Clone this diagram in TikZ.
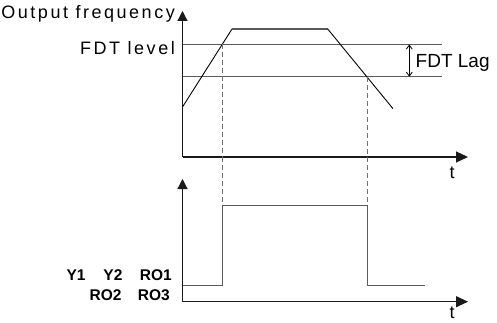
\documentclass[tikz,border=0pt]{standalone}
\usepackage{fontspec}
\setmainfont{Liberation Sans}
\newfontfamily\spacedfont[LetterSpace=14]{Liberation Sans}
\usetikzlibrary{arrows.meta}
\definecolor{lvl}{HTML}{5A5A5A}
\definecolor{axc}{HTML}{1A1A1A}
\definecolor{dsh}{HTML}{707070}
\tikzset{
  axisline/.style={draw=axc, line width=1.2pt},
  vtip/.style={-{Triangle[length=10pt,width=10pt]}},
  htip/.style={-{Triangle[length=12pt,width=11pt]}},
  levelline/.style={draw=lvl, line width=1.4pt},
  rampline/.style={draw=black, line width=0.9pt},
  guide/.style={draw=dsh, line width=1pt, dash pattern=on 5pt off 3pt},
  pulse/.style={draw=lvl, line width=1.4pt},
  lagarrow/.style={draw=black, line width=0.8pt, {Straight Barb[length=4pt,width=6pt]}-{Straight Barb[length=4pt,width=6pt]}},
  biglabel/.style={inner sep=0pt, font=\spacedfont\fontsize{18}{21}\selectfont},
  laglabel/.style={inner sep=0pt, font=\fontsize{19}{22}\selectfont},
  sigtext/.style={inner sep=0pt, font=\bfseries\fontsize{15.5}{18}\selectfont},
  tlabel/.style={inner sep=0pt, font=\fontsize{18}{21}\selectfont}
}
\begin{document}
\begin{tikzpicture}[x=1pt,y=-1pt]
\useasboundingbox (0,0) rectangle (497,323);
% coordinates
\coordinate (o1) at (182.5,157);
\coordinate (y1) at (182.5,11);
\coordinate (x1) at (468,157);
\coordinate (o2) at (182.5,301.7);
\coordinate (y2) at (182.5,179);
\coordinate (x2) at (468,301.7);
\coordinate (fdtL) at (182.5,44.5);
\coordinate (fdtR) at (442,44.5);
\coordinate (lagL) at (182.5,76.7);
\coordinate (lagR) at (442,76.7);
\coordinate (rs) at (182.5,107);
\coordinate (rt) at (232,29);
\coordinate (ft) at (327.7,29);
\coordinate (fe) at (393,108.7);
\coordinate (c1) at (222.2,44.5);
\coordinate (c2) at (367.2,76.7);
\coordinate (p0) at (182.5,285.7);
\coordinate (p1) at (222.2,285.7);
\coordinate (p2) at (222.2,205.3);
\coordinate (p3) at (367.2,205.3);
\coordinate (p4) at (367.2,285.7);
\coordinate (p5) at (425,285.7);
\coordinate (la) at (409.3,44.5);
\coordinate (lb) at (409.3,76.7);
% axes
\draw[axisline,vtip] (o1) -- (y1);
\draw[axisline,htip] (o1) -- (x1);
\draw[axisline,vtip] (o2) -- (y2);
\draw[axisline,htip] (o2) -- (x2);
% levels
\draw[levelline] (fdtL) -- (fdtR);
\draw[levelline] (lagL) -- (lagR);
% frequency
\draw[rampline] (rs) -- (rt);
\draw[levelline] (rt) -- (ft);
\draw[rampline] (ft) -- (fe);
% guides
\draw[guide] (c1) -- (p2);
\draw[guide] (c2) -- (p3);
% pulse
\draw[pulse] (p0) -- (p1) -- (p2) -- (p3) -- (p4) -- (p5);
% lag arrow
\draw[lagarrow] (la) -- (lb);
% labels
\node[biglabel, anchor=base east] (outf) at (175,18.5) {Output frequency};
\node[biglabel, anchor=base east] (fdtlv) at (175,55) {FDT level};
\node[laglabel, anchor=base west] (lag) at (415.5,67.5) {FDT Lag};
\node[tlabel, anchor=base] (t1) at (452,178.5) {t};
\node[tlabel, anchor=base] (t2) at (452,318.5) {t};
\node[sigtext, anchor=base east] (sig1) at (172,280) {Y1\hspace{18pt}Y2\hspace{17.5pt}RO1};
\node[sigtext, anchor=base east] (sig2) at (170,300.5) {RO2\hspace{16.5pt}RO3};
\end{tikzpicture}
\end{document}
